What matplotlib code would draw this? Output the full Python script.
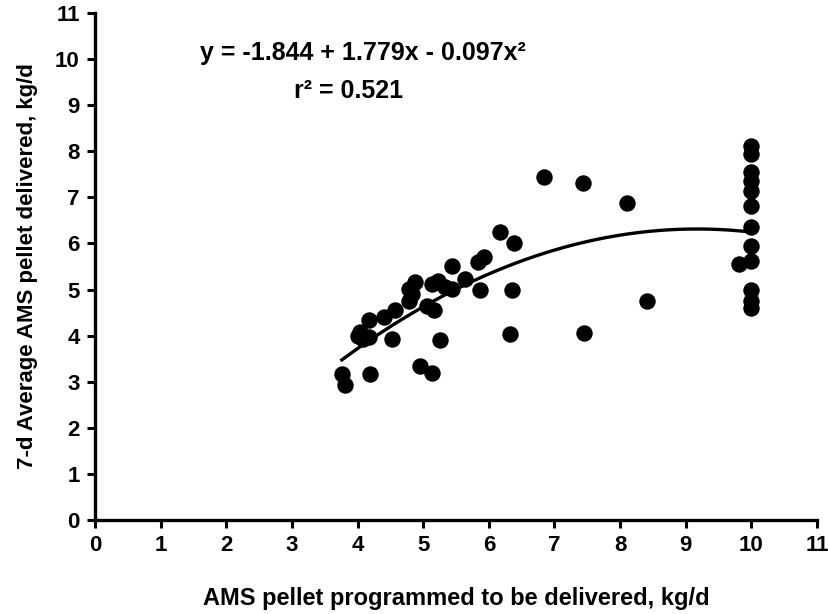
import numpy as np
import matplotlib.pyplot as plt

plt.rcParams['font.family'] = ['Liberation Sans', 'DejaVu Sans']
plt.rcParams['font.weight'] = 'bold'

# programmed (x) vs 7-d average delivered (y), kg/d
prog = [6.17, 6.38, 5.92, 5.84, 5.44, 5.64, 5.86, 6.36, 6.32, 5.44,
        5.23, 5.13, 5.33, 4.88, 4.78, 4.83, 4.78, 5.06, 5.16, 4.57,
        4.40, 4.17, 4.04, 4.01, 4.17, 4.09, 4.52, 5.25, 3.76, 3.81,
        4.19, 4.95, 5.13, 6.84, 7.43, 8.11, 8.41, 7.45,
        10, 10, 10, 10, 10, 10, 10, 10, 10, 9.81, 10, 10, 10]
deliv = [6.24, 6.00, 5.70, 5.59, 5.52, 5.23, 4.99, 4.99, 4.04, 5.01,
         5.19, 5.12, 5.05, 5.16, 5.01, 4.90, 4.76, 4.65, 4.55, 4.55,
         4.40, 4.33, 4.08, 4.00, 3.97, 3.93, 3.93, 3.91, 3.17, 2.92,
         3.17, 3.35, 3.19, 7.43, 7.31, 6.87, 4.76, 4.05,
         8.12, 7.94, 7.54, 7.36, 7.14, 6.82, 6.35, 5.95, 5.62, 5.55, 5.00, 4.75, 4.60]

# quadratic fit shown on the chart
b0, b1, b2 = -1.844, 1.779, -0.097
fit_start, fit_end = 3.76, 10

fig = plt.figure(figsize=(8.29, 6.14), dpi=100)
ax = fig.add_axes([0.1146, 0.153, 0.871, 0.826])

ax.scatter(prog, deliv, s=140, color='black', zorder=3, linewidths=0)
xf = np.linspace(fit_start, fit_end, 200)
ax.plot(xf, b0 + b1 * xf + b2 * xf ** 2, color='black', lw=2.4, zorder=2)

ax.set_xlim(0, 11)
ax.set_ylim(0, 11)
ax.set_xticks(range(12))
ax.set_yticks(range(12))
for s in ['top', 'right']:
    ax.spines[s].set_visible(False)
for s in ['left', 'bottom']:
    ax.spines[s].set_linewidth(2.4)
ax.tick_params(direction='out', length=6, width=2.2, labelsize=16, pad=5)
for lab in ax.get_xticklabels() + ax.get_yticklabels():
    lab.set_fontweight('bold')

ax.set_xlabel('AMS pellet programmed to be delivered, kg/d', fontsize=17,
              fontweight='bold', labelpad=22)
ax.set_ylabel('7-d Average AMS pellet delivered, kg/d', fontsize=16,
              fontweight='bold', labelpad=12)

ax.text(4.08, 10.13, 'y = -1.844 + 1.779x - 0.097x²', fontsize=18,
        fontweight='bold', ha='center', va='center')
ax.text(3.86, 9.3, 'r² = 0.521', fontsize=18, fontweight='bold',
        ha='center', va='center')

fig.savefig('out.png', dpi=100)
